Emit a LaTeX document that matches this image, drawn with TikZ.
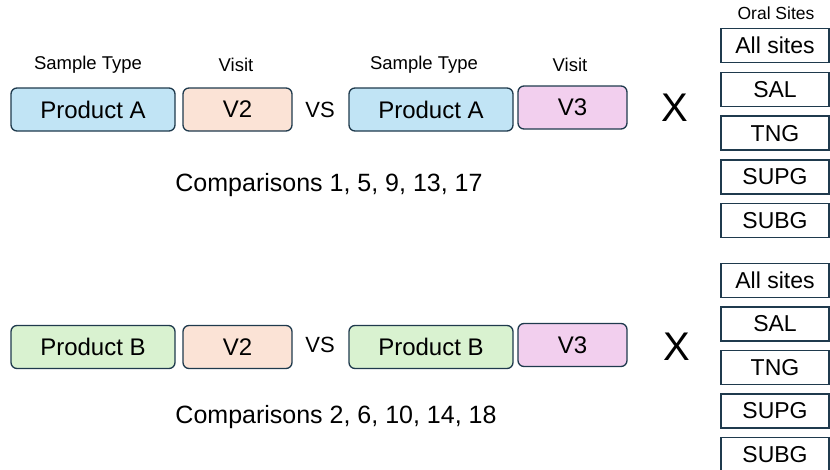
\documentclass[tikz,border=0pt]{standalone}
\usepackage{fontspec}
\setmainfont{Liberation Sans}
\usepackage{tikz}
\usepackage[dvipsnames]{xcolor}
\definecolor{edgeblue}{HTML}{1F3A4D}
\definecolor{prodA}{HTML}{C1E4F5}
\definecolor{prodB}{HTML}{D9F2D0}
\definecolor{visitTwo}{HTML}{FBE3D6}
\definecolor{visitThree}{HTML}{F2CFEE}

\begin{document}
\begin{tikzpicture}[x=1pt, y=-1pt,
    sbox/.style={draw=edgeblue, line width=1.3pt, rounded corners=6pt, minimum height=43pt, inner sep=0pt, font=\fontsize{24}{28}\selectfont},
    prod/.style={sbox, minimum width=164pt},
    visit/.style={sbox, minimum width=109pt},
    site/.style={draw=edgeblue, line width=1.3pt, fill=white, minimum width=108pt, minimum height=34pt, inner sep=0pt, font=\fontsize{23}{26}\selectfont},
    head/.style={font=\fontsize{18.5}{21}\selectfont},
    vs/.style={font=\fontsize{22}{25}\selectfont},
    times/.style={font=\fontsize{40}{44}\selectfont},
    cmp/.style={font=\fontsize{25}{28}\selectfont}]
    \useasboundingbox (0,0) rectangle (830,469);
    % first comparison row
    \node[head] (stA1) at (88,65) {Sample Type};
    \node[head] (viA1) at (236,65) {Visit};
    \node[head] (stA2) at (424,65) {Sample Type};
    \node[head] (viA2) at (570,65) {Visit};
    \node[prod, fill=prodA] (pA1) at (93,109.5) {Product A};
    \node[visit, fill=visitTwo] (vA1) at (237.5,109.5) {V2};
    \node[vs] (vsA) at (320,110) {VS};
    \node[prod, fill=prodA] (pA2) at (431,109.5) {Product A};
    \node[visit, fill=visitThree] (vA2) at (572.5,107.5) {V3};
    \node[times] (xA) at (675,108) {X};
    \node[cmp] (cmpA) at (329,185) {Comparisons 1, 5, 9, 13, 17};
    % second comparison row
    \node[prod, fill=prodB] (pB1) at (93,347) {Product B};
    \node[visit, fill=visitTwo] (vB1) at (237.5,347) {V2};
    \node[vs] (vsB) at (320,345) {VS};
    \node[prod, fill=prodB] (pB2) at (431,347) {Product B};
    \node[visit, fill=visitThree] (vB2) at (572.5,345) {V3};
    \node[times] (xB) at (677,347) {X};
    \node[cmp] (cmpB) at (336,417) {Comparisons 2, 6, 10, 14, 18};
    % oral sites
    \node[head, font=\fontsize{17.5}{20}\selectfont] (oral) at (776,13) {Oral Sites};
    \foreach \s [count=\i from 0] in {All sites,SAL,TNG,SUPG,SUBG}{
        \node[site] (siteA\i) at (775,45.5+43.8*\i) {\s};
        \node[site] (siteB\i) at (775,280.5+43.5*\i) {\s};
    }
\end{tikzpicture}
\end{document}
